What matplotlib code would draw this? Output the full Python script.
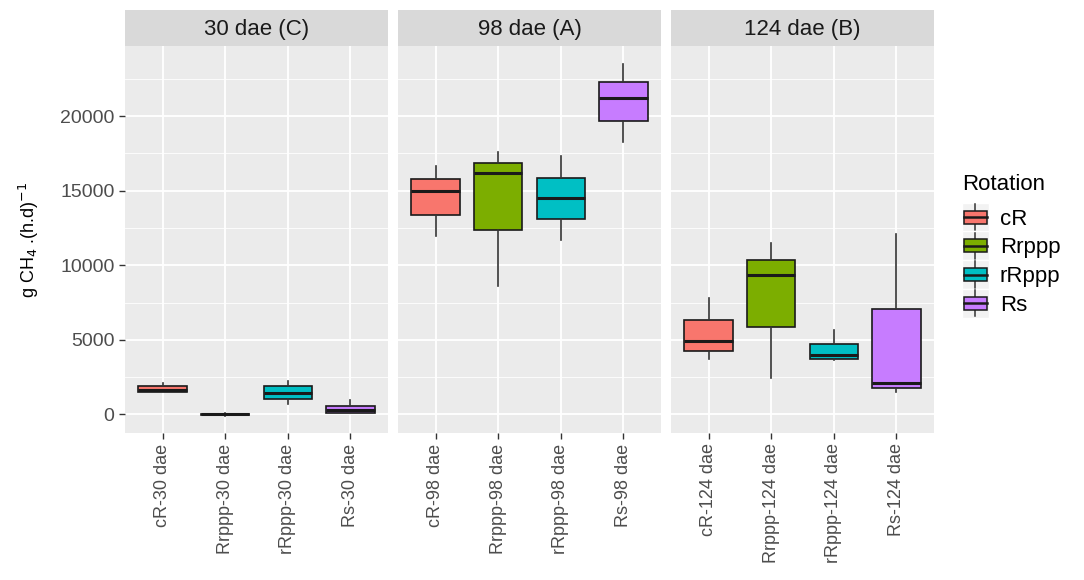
import matplotlib.pyplot as plt
from matplotlib.legend_handler import HandlerBase
from matplotlib.patches import Rectangle
from matplotlib.lines import Line2D

plt.rcParams['font.family'] = ['Liberation Sans', 'DejaVu Sans']

rotations = ['cR', 'Rrppp', 'rRppp', 'Rs']
colors = ['#F8766D', '#7CAE00', '#00BFC4', '#C77CFF']
stages = ['30 dae', '98 dae', '124 dae']
strip_labels = ['30 dae (C)', '98 dae (A)', '124 dae (B)']

# box stats per stage, order follows rotations
whislo_30 = [1475, -100, 715, 90]
q1_30 = [1475, -40, 1030, 90]
med_30 = [1655, 0, 1455, 270]
q3_30 = [1880, 40, 1880, 537]
whishi_30 = [2100, 100, 2235, 940]

whislo_98 = [11940, 8590, 11720, 18270]
q1_98 = [13400, 12370, 13085, 19680]
med_98 = [14985, 16190, 14540, 21180]
q3_98 = [15750, 16860, 15880, 22280]
whishi_98 = [16660, 17600, 17310, 23485]

whislo_124 = [3735, 2460, 3670, 1500]
q1_124 = [4250, 5840, 3735, 1745]
med_124 = [4920, 9350, 3960, 2100]
q3_124 = [6350, 10380, 4745, 7045]
whishi_124 = [7800, 11500, 5640, 12125]

stats_by_stage = [
    (whislo_30, q1_30, med_30, q3_30, whishi_30),
    (whislo_98, q1_98, med_98, q3_98, whishi_98),
    (whislo_124, q1_124, med_124, q3_124, whishi_124),
]

W, H = 1084, 580
fig = plt.figure(figsize=(W / 100, H / 100), dpi=100)

panel_left = [125, 398, 671]
panel_w = 263
top, bottom = 46, 433
strip_top = 10

for k, stage in enumerate(stages):
    ax = fig.add_axes([panel_left[k] / W, 1 - bottom / H, panel_w / W, (bottom - top) / H])
    ax.set_facecolor('#EBEBEB')
    for s in ax.spines.values():
        s.set_visible(False)
    lo, q1, med, q3, hi = stats_by_stage[k]
    bstats = []
    for i in range(len(rotations)):
        bstats.append(dict(whislo=lo[i], q1=q1[i], med=med[i], q3=q3[i], whishi=hi[i], fliers=[]))
    bp = ax.bxp(bstats, positions=range(1, 5), widths=0.77, showcaps=False, patch_artist=True,
                boxprops=dict(edgecolor='#1a1a1a', linewidth=1.2),
                whiskerprops=dict(color='#333333', linewidth=1.2),
                medianprops=dict(color='#1a1a1a', linewidth=2.2))
    for patch, c in zip(bp['boxes'], colors):
        patch.set_facecolor(c)
    for art in bp['boxes'] + bp['whiskers'] + bp['medians']:
        art.set_zorder(3)

    ax.set_xlim(0.4, 4.6)
    ax.set_ylim(-1250, 24700)
    ax.set_yticks([0, 5000, 10000, 15000, 20000])
    ax.set_yticks([2500, 7500, 12500, 17500, 22500], minor=True)
    ax.set_xticks(range(1, 5))
    ax.set_xticklabels([f'{r}-{stage}' for r in rotations], rotation=90,
                       fontsize=13, color='#4D4D4D')
    ax.grid(which='major', color='white', linewidth=1.3, zorder=0)
    ax.grid(which='minor', axis='y', color='white', linewidth=0.6, zorder=0)
    ax.set_axisbelow(True)
    ax.tick_params(axis='both', which='major', color='#333333', length=4, width=1)
    ax.tick_params(axis='y', which='minor', length=0)
    if k == 0:
        ax.tick_params(axis='y', labelsize=14, labelcolor='#4D4D4D')
        ax.set_ylabel('g CH$_4$ .(h.d)$^{-1}$', fontsize=13, color='black', labelpad=14)
    else:
        ax.tick_params(axis='y', which='major', length=0, labelleft=False)

    sax = fig.add_axes([panel_left[k] / W, 1 - top / H, panel_w / W, (top - strip_top) / H])
    sax.set_facecolor('#D9D9D9')
    sax.set_xticks([])
    sax.set_yticks([])
    for s in sax.spines.values():
        s.set_visible(False)
    sax.text(0.5, 0.45, strip_labels[k], ha='center', va='center', fontsize=16,
             color='#1A1A1A', transform=sax.transAxes)


class BoxKeyHandler(HandlerBase):
    def create_artists(self, legend, orig_handle, xdescent, ydescent, width, height, fontsize, trans):
        c = orig_handle.get_facecolor()
        bg = Rectangle((-xdescent, -ydescent - 2), width, height + 4, facecolor='#F2F2F2',
                       edgecolor='white', linewidth=1, transform=trans)
        cx = -xdescent + width / 2
        whisk = Line2D([cx, cx], [-ydescent - 1, -ydescent + height + 1], color='#333333',
                       linewidth=1.1, transform=trans)
        bw = width * 0.84
        box = Rectangle((cx - bw / 2, -ydescent + height * 0.22), bw, height * 0.56,
                        facecolor=c, edgecolor='#1a1a1a', linewidth=1.1, transform=trans)
        med = Line2D([cx - bw / 2, cx + bw / 2], [-ydescent + height * 0.5] * 2,
                     color='#1a1a1a', linewidth=1.8, transform=trans)
        return [bg, whisk, box, med]


handles = [Rectangle((0, 0), 1, 1, facecolor=c) for c in colors]
leg = fig.legend(handles, rotations, title='Rotation', loc='upper left',
                 bbox_to_anchor=(962 / W, 1 - 174 / H), frameon=False,
                 fontsize=16, title_fontsize=16, handler_map={Rectangle: BoxKeyHandler()},
                 handlelength=1.2, handleheight=1.25, labelspacing=0.2,
                 handletextpad=0.5, borderpad=0, borderaxespad=0)
leg._legend_box.align = 'left'
leg._legend_box.sep = 7.5

fig.savefig('out.png', dpi=100)
